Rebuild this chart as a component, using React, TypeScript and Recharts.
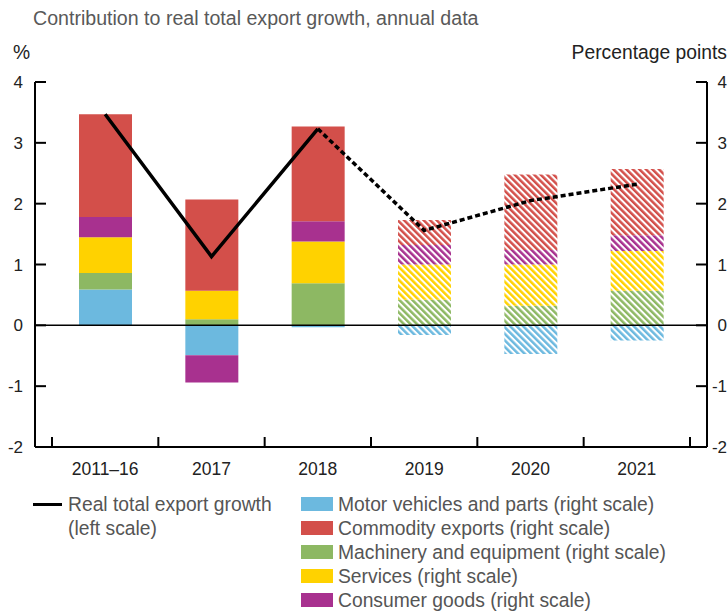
import {
  ComposedChart,
  Bar,
  Line,
  Cell,
  XAxis,
  YAxis,
  ReferenceLine,
} from "recharts";

const categories = ["2011–16", "2017", "2018", "2019", "2020", "2021"];
const motorVehicles = [0.59, -0.49, -0.03, -0.16, -0.47, -0.25];
const machinery = [0.27, 0.1, 0.69, 0.42, 0.32, 0.57];
const services = [0.59, 0.47, 0.69, 0.58, 0.68, 0.65];
const consumerGoods = [0.33, -0.45, 0.33, 0.32, 0.24, 0.26];
const commodities = [1.69, 1.5, 1.56, 0.41, 1.24, 1.09];
const exportGrowth = [3.47, 1.13, 3.23, null, null, null];
const exportGrowthForecast = [null, null, 3.23, 1.56, 2.05, 2.32];
const yTicks = [-2, -1, 0, 1, 2, 3, 4];
// first projected year: bars from here on are hatched
const firstForecast = 3;

const FONT = "'Liberation Sans', Arial, Helvetica, sans-serif";

const series = [
  { key: "motor", label: "Motor vehicles and parts (right scale)", color: "#6cb9df", values: motorVehicles },
  { key: "machinery", label: "Machinery and equipment (right scale)", color: "#8db863", values: machinery },
  { key: "services", label: "Services (right scale)", color: "#ffd200", values: services },
  { key: "consumer", label: "Consumer goods (right scale)", color: "#a8318f", values: consumerGoods },
  { key: "commodity", label: "Commodity exports (right scale)", color: "#d34f4a", values: commodities },
];

// legend order differs from stacking order
const legendOrder = ["motor", "commodity", "machinery", "services", "consumer"];

const data = categories.map((c, i) => {
  const row: Record<string, string | number | null> = {
    name: c,
    growth: exportGrowth[i],
    forecast: exportGrowthForecast[i],
  };
  series.forEach((s) => {
    row[s.key] = s.values[i];
  });
  return row;
});

function CategoryTick(props: any) {
  const { x, y, payload, index } = props;
  const half = payload?.offset || 53.2;
  return (
    <g>
      <line x1={x - half} x2={x - half} y1={y} y2={y - 10} stroke="#000" strokeWidth={2} />
      {index === categories.length - 1 && (
        <line x1={x + half} x2={x + half} y1={y} y2={y - 10} stroke="#000" strokeWidth={2} />
      )}
      <text x={x} y={y + 28} textAnchor="middle" fill="#222" fontSize={17.5} fontFamily={FONT}>
        {payload.value}
      </text>
    </g>
  );
}

// right-scale labels are right-aligned at the page edge
function RightTick(props: any) {
  const { y, payload } = props;
  return (
    <text x={727} y={y} dy="0.36em" textAnchor="end" fill="#222" fontSize={17} fontFamily={FONT}>
      {payload.value}
    </text>
  );
}

const textStyle = { position: "absolute" as const, fontSize: 19.3, lineHeight: "24px", whiteSpace: "nowrap" as const };

export default function App() {
  return (
    <div style={{ position: "absolute", left: 0, top: 0, width: 728, height: 611, background: "#fff", fontFamily: FONT }}>
      <svg width={0} height={0} style={{ position: "absolute" }}>
        <defs>
          {series.map((s) => (
            <pattern
              key={s.key}
              id={`hatch-${s.key}`}
              patternUnits="userSpaceOnUse"
              width={4.6}
              height={4.6}
              patternTransform="rotate(-45)"
            >
              <rect width={4.6} height={4.6} fill="#fff" />
              <rect width={2.5} height={4.6} fill={s.color} />
            </pattern>
          ))}
        </defs>
      </svg>

      <div style={{ ...textStyle, fontSize: 19.6, left: 33, top: 6, color: "#595959" }}>
        Contribution to real total export growth, annual data
      </div>
      <div style={{ ...textStyle, left: 13, top: 41, color: "#222" }}>%</div>
      <div style={{ ...textStyle, right: 1, top: 41, color: "#222" }}>Percentage points</div>

      <ComposedChart
        width={728}
        height={480}
        data={data}
        stackOffset="sign"
        margin={{ top: 82, right: 0, bottom: 0, left: 0 }}
      >
        <XAxis
          dataKey="name"
          height={33}
          padding={{ left: 17, right: 17 }}
          axisLine={{ stroke: "#000", strokeWidth: 2 }}
          tickLine={false}
          tickSize={0}
          tickMargin={0}
          interval={0}
          tick={<CategoryTick />}
        />
        <YAxis
          yAxisId="left"
          width={35}
          domain={[-2, 4]}
          ticks={yTicks}
          interval={0}
          tickSize={-11}
          tickMargin={23}
          axisLine={{ stroke: "#000", strokeWidth: 2 }}
          tickLine={{ stroke: "#000", strokeWidth: 2 }}
          tick={{ fill: "#222", fontSize: 17, fontFamily: FONT }}
        />
        <YAxis
          yAxisId="right"
          orientation="right"
          width={21}
          domain={[-2, 4]}
          ticks={yTicks}
          interval={0}
          tickSize={-11}
          tickMargin={21}
          axisLine={{ stroke: "#000", strokeWidth: 2 }}
          tickLine={{ stroke: "#000", strokeWidth: 2 }}
          tick={<RightTick />}
        />
        {series.map((s) => (
          <Bar
            key={s.key}
            dataKey={s.key}
            yAxisId="right"
            stackId="a"
            barSize={53}
            fill={s.color}
            isAnimationActive={false}
          >
            {categories.map((c, i) => (
              <Cell key={c} fill={i >= firstForecast ? `url(#hatch-${s.key})` : s.color} />
            ))}
          </Bar>
        ))}
        <ReferenceLine yAxisId="left" y={0} stroke="#000" strokeWidth={1.5} />
        <Line
          yAxisId="left"
          dataKey="growth"
          stroke="#000"
          strokeWidth={3.5}
          dot={false}
          activeDot={false}
          isAnimationActive={false}
        />
        <Line
          yAxisId="left"
          dataKey="forecast"
          stroke="#000"
          strokeWidth={3.5}
          strokeDasharray="5 3"
          dot={false}
          activeDot={false}
          isAnimationActive={false}
        />
      </ComposedChart>

      <div style={{ position: "absolute", left: 33, top: 503, width: 29, height: 3, background: "#000" }} />
      <div style={{ ...textStyle, left: 68, top: 493, color: "#555" }}>
        Real total export growth
        <br />
        (left scale)
      </div>
      {legendOrder.map((k, i) => {
        const s = series.find((x) => x.key === k)!;
        return (
          <div key={k}>
            <div
              style={{
                position: "absolute",
                left: 301,
                top: 497 + i * 24,
                width: 32,
                height: 14,
                background: s.color,
              }}
            />
            <div style={{ ...textStyle, left: 338, top: 493 + i * 24, color: "#555" }}>{s.label}</div>
          </div>
        );
      })}
    </div>
  );
}
